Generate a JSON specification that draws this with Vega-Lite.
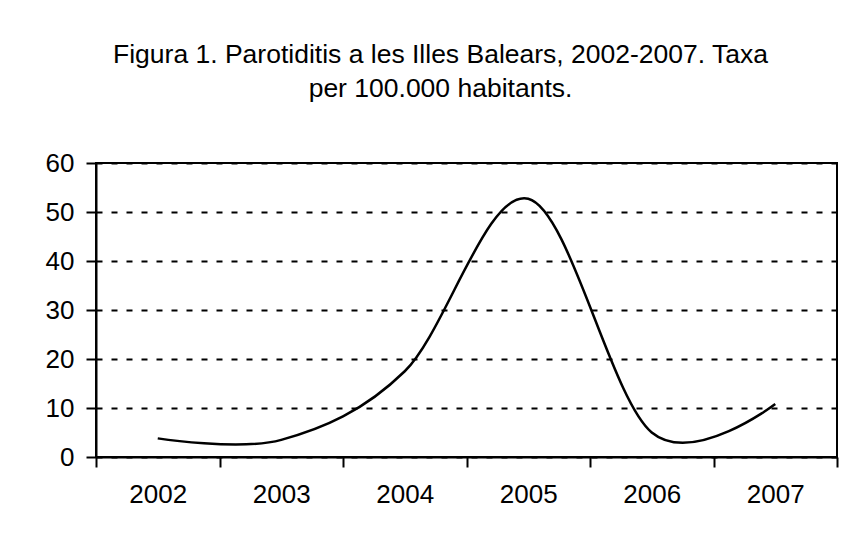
{
  "$schema": "https://vega.github.io/schema/vega-lite/v6.json",
  "width": 741,
  "height": 294,
  "autosize": {"type": "none"},
  "padding": {"left": 96, "top": 163, "right": 21, "bottom": 86},
  "background": "white",
  "title": {
    "text": ["Figura 1. Parotiditis a les Illes Balears, 2002-2007. Taxa", "per 100.000 habitants."],
    "font": "Liberation Sans",
    "fontSize": 26.5,
    "fontWeight": "normal",
    "color": "black",
    "lineHeight": 34,
    "anchor": "middle",
    "dx": -26,
    "offset": 47.5
  },
  "data": {
    "values": [
      {"year": "2002", "rate": 3.8},
      {"year": "2003", "rate": 3.5},
      {"year": "2004", "rate": 17.5},
      {"year": "2005", "rate": 52.7},
      {"year": "2006", "rate": 5.0},
      {"year": "2007", "rate": 10.8}
    ]
  },
  "mark": {"type": "line", "interpolate": "cardinal", "color": "black", "strokeWidth": 2.5},
  "encoding": {
    "x": {
      "field": "year",
      "type": "ordinal",
      "bandPosition": 0.5,
      "scale": {"type": "band", "paddingInner": 0, "paddingOuter": 0},
      "axis": {
        "title": null,
        "tickBand": "extent",
        "labelAngle": 0,
        "labelFont": "Liberation Sans",
        "labelFontSize": 26,
        "labelColor": "black",
        "tickColor": "black",
        "tickSize": 10,
        "tickWidth": 2,
        "domainColor": "black",
        "domainWidth": 2,
        "labelPadding": 14,
        "grid": false
      }
    },
    "y": {
      "field": "rate",
      "type": "quantitative",
      "scale": {"domain": [0, 60], "nice": false},
      "axis": {
        "title": null,
        "values": [0, 10, 20, 30, 40, 50, 60],
        "labelFont": "Liberation Sans",
        "labelFontSize": 26,
        "labelColor": "black",
        "tickColor": "black",
        "tickSize": 10,
        "tickWidth": 2,
        "labelPadding": 12,
        "domainColor": "black",
        "domainWidth": 2,
        "grid": true,
        "gridColor": "black",
        "gridOpacity": 1,
        "gridWidth": 2,
        "gridDash": [6, 9]
      }
    }
  },
  "config": {"view": {"stroke": "black", "strokeWidth": 2}}
}
